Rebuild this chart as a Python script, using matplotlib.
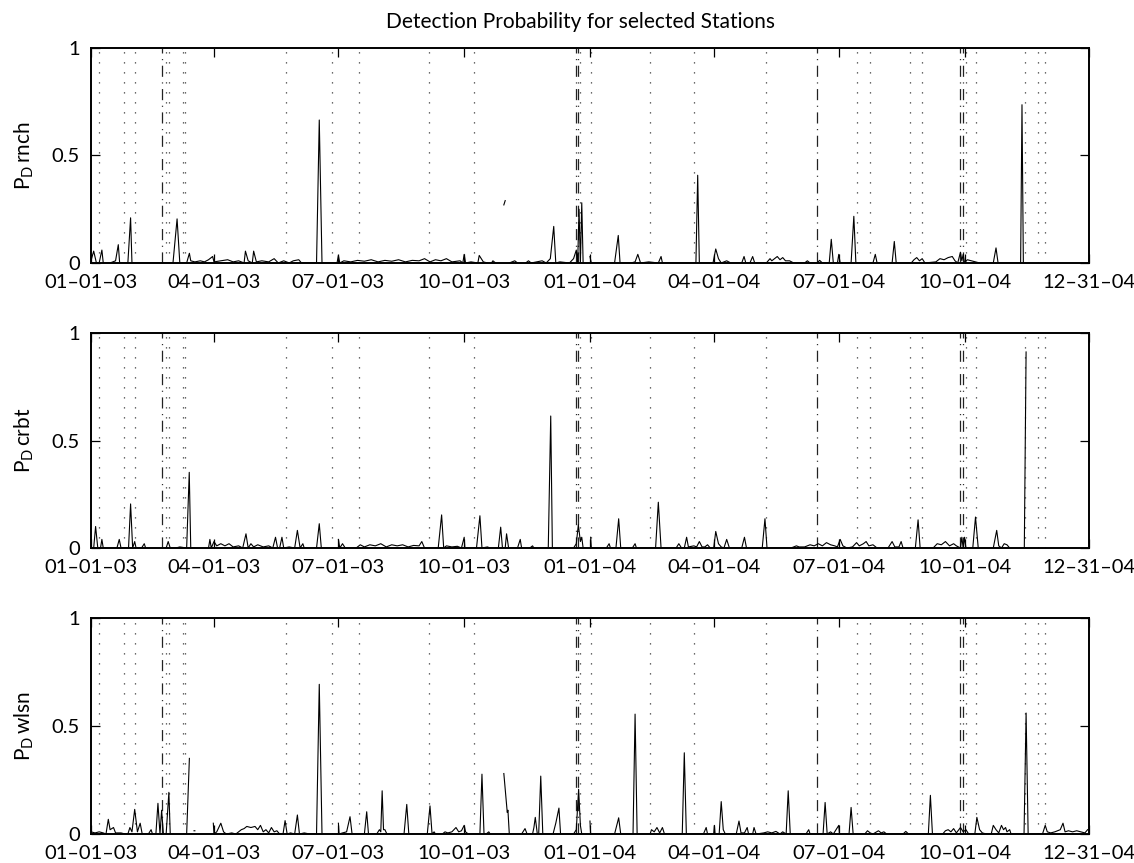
import datetime as dt

import matplotlib
matplotlib.use("Agg")
import matplotlib.pyplot as plt
import matplotlib.dates as mdates
import numpy as np

nan = np.nan

START = dt.date(2003, 1, 1)
END = dt.date(2004, 12, 31)

tick_dates = [dt.date(2003, 1, 1), dt.date(2003, 4, 1), dt.date(2003, 7, 1),
              dt.date(2003, 10, 1), dt.date(2004, 1, 1), dt.date(2004, 4, 1),
              dt.date(2004, 7, 1), dt.date(2004, 10, 1), dt.date(2004, 12, 31)]
tick_labels = ["01–01–03", "04–01–03", "07–01–03", "10–01–03", "01–01–04",
               "04–01–04", "07–01–04", "10–01–04", "12–31–04"]

# event markers, days after 2003-01-01
dotted_days = [6, 24, 32, 55, 57, 67, 69, 143, 176, 196, 247, 280, 358, 366,
               409, 441, 494, 560, 570, 599, 608, 640, 647, 683, 692.5, 698]
dashdot_days = [52, 354.5, 356, 531, 636, 637.5]

stations = ["rnch", "crbt", "wlsn"]

rnch_days = [0, 2, 4, 6, 8, 9, 14, 18, 20, 21, 27, 29, 30, 34, 60, 63, 65, 70,
             72, 73, 76, 80, 83, 86, 89, 90, 95, 100, 104, 108, 112, 113, 115,
             118, 119, 121, 125, 130, 134, 137, 141, 145, 148, 152, 154, 165,
             167, 169, 180, 181, 182, 185, 190, 195, 200, 205, 210, 215, 220,
             225, 230, 235, 240, 244, 248, 252, 256, 260, 264, 270, 272, 273,
             274, 278, 283, 284, 287, 290, 291, 293, 294, 296, 297, 302, 303,
             304, 306, 310, 312, 313, 318, 320, 322, 326, 330, 333, 336, 338.5,
             340, 343, 350, 353, 355, 356, 357, 358, 359, 360, 361, 365, 366,
             370, 383, 385.7, 387, 395, 398, 400, 402, 408, 415, 417, 418, 442.5,
             443.8, 445, 455, 457, 459, 461, 465, 468, 476, 477.7, 479, 482, 484,
             485.5, 494, 496.7, 498, 500, 502, 504, 506, 508, 511, 514, 522, 524,
             526, 531, 533, 535, 540, 541.5, 543, 546, 547, 548, 556, 558, 559.5,
             572, 573.7, 575, 586, 587.6, 589, 600, 602, 604, 606, 608, 610, 618,
             621, 624, 627, 630, 632, 634, 636, 637, 638, 639, 641, 644, 647, 650,
             660, 662, 663.5, 680, 681, 682, 683]
rnch_vals = [0.01, 0.055, 0.0, 0.0, 0.06, 0.0, 0.0, 0.01, 0.085, 0.0, 0.0, 0.21,
             0.0, 0.0, 0.0, 0.205, 0.0, 0.0, 0.045, 0.01, 0.005, 0.01, 0.005,
             0.015, 0.03, 0.005, 0.01, 0.015, 0.005, 0.01, 0.0, 0.055, 0.01, 0.0,
             0.055, 0.005, 0.01, 0.005, 0.02, 0.0, 0.01, 0.0, 0.01, 0.015, 0.0,
             0.0, 0.665, 0.0, 0.0, 0.035, 0.0, 0.01, 0.005, 0.012, 0.008, 0.015,
             0.005, 0.012, 0.008, 0.015, 0.005, 0.012, 0.01, 0.02, 0.005, 0.015,
             0.01, 0.02, 0.005, 0.01, 0.0, 0.04, 0.0, 0.005, 0.0, 0.035, 0.005,
             0.0, nan, 0.0, 0.01, 0.0, nan, 0.27, 0.29, nan, 0.0, 0.01, 0.0, nan,
             0.0, 0.01, 0.0, 0.005, 0.01, 0.0, 0.02, 0.17, 0.0, 0.005, 0.0, 0.02,
             0.06, 0.0, 0.25, 0.0, 0.28, 0.0, nan, 0.03, 0.0, 0.0, 0.0, 0.128,
             0.0, 0.0, 0.005, 0.04, 0.0, 0.005, 0.0, 0.03, 0.0, 0.0, 0.408, 0.0,
             0.0, 0.065, 0.02, 0.0, 0.01, 0.0, 0.0, 0.03, 0.0, 0.0, 0.03, 0.0,
             0.0, 0.02, 0.01, 0.02, 0.03, 0.015, 0.025, 0.01, 0.01, 0.0, 0.0,
             0.01, 0.0, 0.0, 0.012, 0.0, 0.0, 0.11, 0.0, 0.0, 0.04, 0.0, 0.0,
             0.217, 0.0, 0.0, 0.04, 0.0, 0.0, 0.10, 0.0, 0.0, 0.015, 0.025, 0.01,
             0.02, 0.0, 0.005, 0.02, 0.015, 0.025, 0.03, 0.01, 0.0, 0.05, 0.01,
             0.04, 0.0, 0.015, 0.01, 0.005, 0.0, 0.0, 0.07, 0.0, 0.0, 0.736, 0.0,
             nan]

crbt_days = [0, 2, 3.4, 5, 7, 8, 9, 19, 20.7, 22, 27.5, 29, 30.5, 32, 33, 37, 39,
             40, 41, 55, 56.5, 58, 62, 65, 70, 71.9, 73, 76, 77, 86, 87, 88, 90,
             92, 95, 98, 101, 104, 108, 111, 113.4, 115, 117, 119, 122, 126, 130,
             133, 135, 136.5, 138, 139.7, 141, 145, 149, 151, 153, 155, 156, 165,
             167, 168.5, 178, 179, 181, 182, 184, 186, 194, 197, 200, 204, 208,
             212, 216, 220, 224, 228, 232, 236, 240, 242, 244, 254, 256.5, 258,
             260, 264, 268, 271, 273, 273.5, 282, 284.5, 286, 290, 292, 298,
             299.7, 301, 303, 304, 305.5, 312, 314, 315, 321, 323, 324, 334.5,
             336.3, 337.5, 338, 353, 355, 356.5, 358, 359, 360, 361, 365.5, 366,
             377, 379, 380, 384, 386, 387.5, 396, 398, 399, 413, 415, 417, 428,
             430, 432, 434, 435.7, 437, 441, 443, 445, 447, 449, 451, 453, 455.5,
             457, 459, 461, 463, 465, 467, 476, 478, 479.5, 491, 493, 494.5, 512,
             516, 518, 522, 526, 529, 532, 535, 538, 541, 544, 546, 548, 550, 553,
             557, 560, 562, 565, 567, 569, 572, 575, 583, 586, 588, 591, 592.6,
             594, 603, 605, 606.5, 616, 619, 622, 625, 628, 631, 633, 636, 637,
             638, 639, 640, 645, 647, 649, 660, 662.5, 664, 666, 668, 670, 672,
             673, 682.7, 684, 685]
crbt_vals = [0.0, 0.0, 0.10, 0.0, 0.0, 0.04, 0.0, 0.0, 0.04, 0.0, 0.0, 0.205, 0.0,
             0.03, 0.0, 0.0, 0.02, 0.0, nan, 0.0, 0.03, 0.0, 0.0, 0.005, 0.0,
             0.352, 0.0, 0.0, nan, 0.0, 0.04, 0.0, 0.03, 0.01, 0.02, 0.01, 0.02,
             0.005, 0.01, 0.0, 0.066, 0.0, 0.02, 0.005, 0.015, 0.005, 0.01, 0.0,
             0.05, 0.0, 0.0, 0.05, 0.0, 0.005, 0.0, 0.082, 0.0, 0.02, 0.0, 0.0,
             0.113, 0.0, 0.0, nan, 0.04, 0.0, 0.02, 0.0, 0.0, 0.015, 0.005,
             0.015, 0.01, 0.02, 0.005, 0.015, 0.01, 0.015, 0.005, 0.012, 0.01,
             0.03, 0.0, 0.0, 0.154, 0.0, 0.01, 0.005, 0.008, 0.0, 0.05, 0.0, 0.0,
             0.15, 0.0, 0.005, 0.0, 0.0, 0.097, 0.0, 0.0, 0.066, 0.0, 0.0, 0.04,
             0.0, 0.0, 0.01, 0.0, 0.0, 0.614, 0.0, nan, 0.0, 0.02, 0.108, 0.03,
             0.05, 0.0, nan, 0.05, 0.0, 0.0, 0.02, 0.0, 0.0, 0.136, 0.0, 0.0,
             0.02, 0.0, 0.0, 0.213, 0.0, 0.0, 0.02, 0.0, 0.0, 0.05, 0.005, 0.01,
             0.005, 0.03, 0.005, 0.005, 0.015, 0.0, 0.0, 0.077, 0.02, 0.005, 0.0,
             0.04, 0.0, 0.0, 0.05, 0.0, 0.0, 0.136, 0.0, 0.0, 0.01, 0.005, 0.005,
             0.015, 0.01, 0.02, 0.01, 0.025, 0.015, 0.01, 0.005, 0.04, 0.01, 0.0,
             0.005, 0.025, 0.01, 0.02, 0.03, 0.01, 0.015, 0.0, 0.0, 0.03, 0.005,
             0.005, 0.03, 0.0, 0.0, 0.131, 0.0, 0.0, 0.02, 0.015, 0.03, 0.01,
             0.02, 0.01, 0.0, 0.05, 0.0, 0.05, 0.0, 0.0, 0.144, 0.0, 0.0, 0.082,
             0.01, 0.0, 0.02, 0.015, 0.0, nan, 0.0, 0.912, nan]

wlsn_days = [0, 3, 6, 9, 11, 12.7, 14, 16.5, 18, 22, 25, 27, 28.5, 30, 32, 34,
             36, 37.5, 42, 44, 45, 47.5, 49, 50.5, 51.7, 53, 55, 57, 58, 60, 61,
             70, 72, 73, 75.4, 76, 77, 89.5, 90, 92, 95, 97, 99, 103, 106, 108,
             110, 112, 114, 117, 120, 122, 124, 126, 128, 130, 132, 134, 136,
             138, 140.5, 142, 143.5, 146, 149, 151, 152.5, 156, 160, 165, 167,
             169, 170, 181, 181.5, 184, 187, 189.5, 191, 200, 201.7, 203, 209,
             211, 212, 213, 214, 215, 216.5, 229, 231, 232.5, 246, 248, 249.5,
             251, 252, 257, 259, 261, 264, 267, 269, 271, 273, 274, 276, 284.5,
             286, 287.5, 289, 291, 292, 293, 302, 304.5, 305, 306, 307, 315,
             317.5, 319, 323, 324, 325, 326.5, 327.5, 329, 330.5, 338, 340,
             342.3, 343.5, 353, 355, 356.7, 358, 359, 360, 365, 365.5, 383, 386,
             387.5, 396.5, 398, 399.5, 409, 410, 412, 414, 416, 418, 419.5, 432.5,
             434, 435.5, 448, 450, 451, 455.5, 456, 456.5, 459.5, 461, 462.5, 464,
             472, 474, 475.5, 478, 480, 481, 484, 485, 486.5, 492, 495, 498, 501,
             504, 506, 508.5, 510, 511.5, 523, 525, 526, 535.5, 537, 538.5, 541,
             543, 547, 547.5, 554.5, 556, 557.5, 566, 568, 570, 572, 576, 578,
             580, 582, 594, 596, 598, 612.5, 614, 615.5, 623, 625, 627, 629, 631,
             633, 636, 638, 640, 642, 646.5, 648, 650, 652, 655, 658.5, 660, 662,
             664, 666, 667.5, 669, 670, 672, 673, 682.5, 684, 685.5, 696, 698,
             699.5, 702, 705, 709, 711, 712.5, 715, 718, 721, 724, 727, 729]
wlsn_vals = [0.01, 0.005, 0.01, 0.005, 0.0, 0.068, 0.02, 0.03, 0.005, 0.005, 0.0,
             0.0, 0.03, 0.01, 0.114, 0.01, 0.05, 0.0, 0.0, 0.02, 0.0, 0.0, 0.142,
             0.0, 0.11, 0.0, 0.0, 0.193, 0.0, 0.0, nan, 0.0, 0.35, nan, 0.015,
             0.015, nan, 0.05, 0.0, 0.01, 0.05, 0.01, 0.0, 0.005, 0.0, 0.01, 0.02,
             0.025, 0.035, 0.03, 0.035, 0.02, 0.04, 0.01, 0.02, 0.005, 0.03, 0.01,
             0.015, 0.0, 0.0, 0.062, 0.0, 0.005, 0.0, 0.088, 0.0, 0.005, 0.0, 0.0,
             0.693, 0.0, nan, 0.05, 0.0, 0.005, 0.01, 0.08, 0.0, 0.0, 0.103, 0.0,
             0.0, 0.02, 0.01, 0.2, 0.02, 0.02, 0.0, 0.0, 0.137, 0.0, 0.0, 0.13,
             0.0, 0.01, 0.0, 0.0, 0.01, 0.005, 0.01, 0.03, 0.01, 0.015, 0.04,
             0.01, 0.0, 0.0, 0.277, 0.0, 0.0, 0.01, 0.0, nan, 0.28, 0.10, 0.11,
             0.0, nan, 0.0, 0.025, 0.0, 0.0, 0.03, 0.077, 0.0, 0.0, 0.268, 0.0,
             0.0, 0.05, 0.12, 0.0, 0.0, 0.02, 0.207, 0.04, 0.0, nan, 0.06, 0.0,
             0.0, 0.075, 0.0, 0.0, 0.555, 0.0, 0.0, 0.02, 0.01, 0.03, 0.005,
             0.03, 0.0, 0.0, 0.376, 0.0, 0.0, 0.03, 0.0, 0.0, 0.04, 0.0, 0.0,
             0.15, 0.02, 0.0, 0.0, 0.06, 0.005, 0.005, 0.03, 0.0, 0.0, 0.03, 0.0,
             0.005, 0.01, 0.005, 0.012, 0.0, 0.01, 0.0, 0.2, 0.0, 0.0, 0.02, 0.0,
             0.0, 0.146, 0.0, 0.01, 0.0, 0.04, 0.0, 0.0, 0.123, 0.0, 0.0, 0.015,
             0.005, 0.0, 0.015, 0.005, 0.01, 0.0, 0.0, 0.012, 0.0, 0.0, 0.179,
             0.0, 0.0, 0.015, 0.02, 0.01, 0.025, 0.005, 0.03, 0.01, 0.02, 0.0,
             0.0, 0.077, 0.02, 0.005, 0.0, 0.0, 0.04, 0.02, 0.005, 0.04, 0.02,
             0.03, 0.01, 0.02, 0.0, 0.0, 0.56, 0.0, 0.0, 0.04, 0.01, 0.005, 0.01,
             0.02, 0.05, 0.01, 0.015, 0.01, 0.015, 0.01, 0.005, 0.02]

series = [(rnch_days, rnch_vals), (crbt_days, crbt_vals), (wlsn_days, wlsn_vals)]

plt.rcParams["font.family"] = ["Lato", "DejaVu Sans"]
plt.rcParams["mathtext.default"] = "regular"
plt.rcParams["lines.scale_dashes"] = False

fig = plt.figure(figsize=(11.34, 8.63), dpi=100)
base = mdates.date2num(START)
xmax = mdates.date2num(END)

# axes boxes in figure fractions: left, bottom, width, height
boxes = [(0.0802, 0.6953, 0.8801, 0.2491),
         (0.0802, 0.3650, 0.8801, 0.2491),
         (0.0802, 0.0336, 0.8801, 0.2503)]

for name, (days, vals), box in zip(stations, series, boxes):
    ax = fig.add_axes(box)
    for d in dotted_days:
        ax.axvline(base + d, color="#3a3a3a", lw=0.9, ls=(0, (0.9, 6.3)), zorder=1)
    for d in dashdot_days:
        ax.axvline(base + d, color="#222222", lw=0.9, ls=(0, (8, 4, 0.8, 4)), zorder=1)
    x = base + np.asarray(days, dtype=float)
    ax.plot(x, vals, color="black", lw=0.8, zorder=2)

    ax.set_xlim(base, xmax)
    ax.set_ylim(0, 1)
    ax.set_xticks([mdates.date2num(t) for t in tick_dates])
    ax.set_xticklabels(tick_labels)
    ax.set_yticks([0, 0.5, 1])
    ax.set_yticklabels(["0", "0.5", "1"])
    ax.tick_params(direction="in", length=6.5, width=0.9, top=True, right=True,
                   labelsize=14.5)
    ax.tick_params(axis="x", pad=8)
    ax.tick_params(axis="y", pad=8)
    for s in ax.spines.values():
        s.set_linewidth(1.4)
    ax.set_ylabel(f"P$_D$\u2009{name}", fontsize=15, labelpad=11)

fig.text(0.512, 0.974, "Detection Probability for selected Stations",
         ha="center", va="center", fontsize=15)

fig.savefig("out.png", dpi=100)
